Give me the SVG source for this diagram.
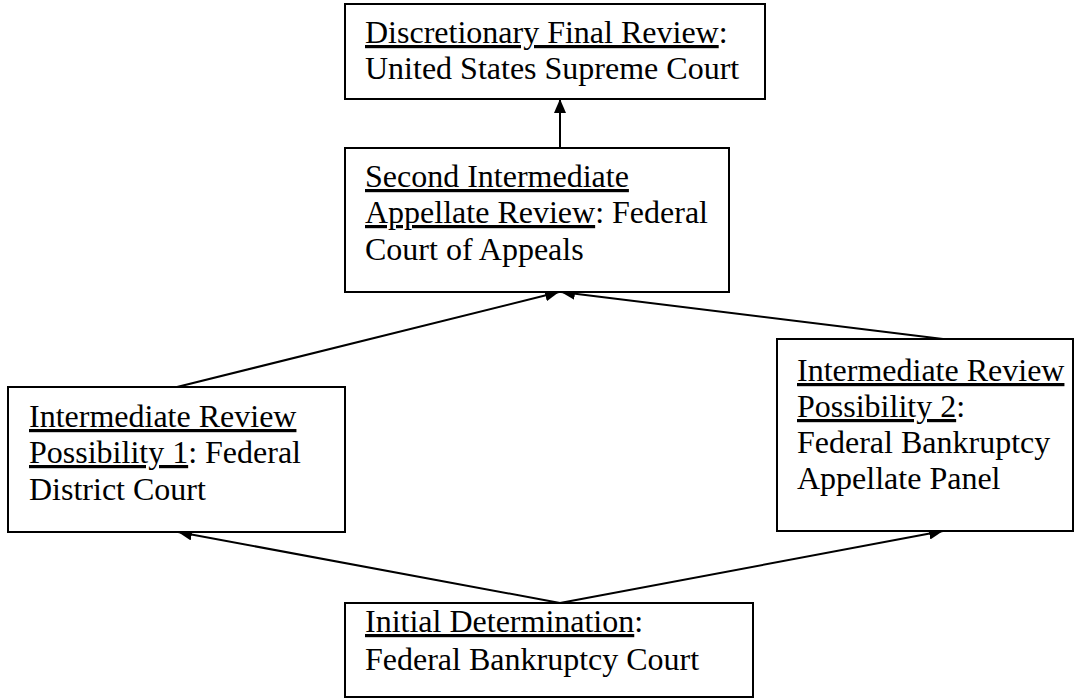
<svg xmlns="http://www.w3.org/2000/svg" width="1081" height="698" viewBox="0 0 1081 698">
<style>
.box{fill:#fff;stroke:#000;stroke-width:2}
.t{font-family:"Liberation Serif","Times New Roman",serif;font-size:32px;fill:#000}
.u{text-decoration:underline}
.c{stroke:#000;stroke-width:2;fill:none;marker-end:url(#ah)}
</style>
<defs>
<marker id="ah" viewBox="0 0 14 12" refX="14" refY="6" markerWidth="14" markerHeight="12" markerUnits="userSpaceOnUse" orient="auto">
<path d="M0,0 L14,6 L0,12 z" fill="#000"/>
</marker>
</defs>
<g id="connectors">
<line class="c" x1="560" y1="148" x2="560" y2="99"/>
<line class="c" x1="177" y1="387" x2="559" y2="292"/>
<line class="c" x1="943" y1="339" x2="561" y2="292"/>
<line class="c" x1="560" y1="603" x2="178" y2="532"/>
<line class="c" x1="560" y1="603" x2="943" y2="531"/>
</g>
<g id="supreme">
<rect class="box" x="345" y="4" width="420" height="95"/>
<text class="t" x="365" y="43"><tspan class="u">Discretionary Final Review</tspan>:</text>
<text class="t" x="365" y="79">United States Supreme Court</text>
</g>
<g id="appeals">
<rect class="box" x="345" y="148" width="384" height="144"/>
<text class="t" x="365" y="187"><tspan class="u">Second Intermediate</tspan></text>
<text class="t" x="365" y="223"><tspan class="u">Appellate Review</tspan>: Federal</text>
<text class="t" x="365" y="260">Court of Appeals</text>
</g>
<g id="district">
<rect class="box" x="8" y="387" width="337" height="145"/>
<text class="t" x="29" y="427"><tspan class="u">Intermediate Review</tspan></text>
<text class="t" x="29" y="463"><tspan class="u">Possibility 1</tspan>: Federal</text>
<text class="t" x="29" y="500">District Court</text>
</g>
<g id="bap">
<rect class="box" x="777" y="339" width="296" height="192"/>
<text class="t" x="797" y="381"><tspan class="u">Intermediate Review</tspan></text>
<text class="t" x="797" y="417"><tspan class="u">Possibility 2</tspan>:</text>
<text class="t" x="797" y="453">Federal Bankruptcy</text>
<text class="t" x="797" y="489">Appellate Panel</text>
</g>
<g id="bankruptcy">
<rect class="box" x="345" y="603" width="408" height="94"/>
<text class="t" x="365" y="632"><tspan class="u">Initial Determination</tspan>:</text>
<text class="t" x="365" y="670">Federal Bankruptcy Court</text>
</g>
</svg>
